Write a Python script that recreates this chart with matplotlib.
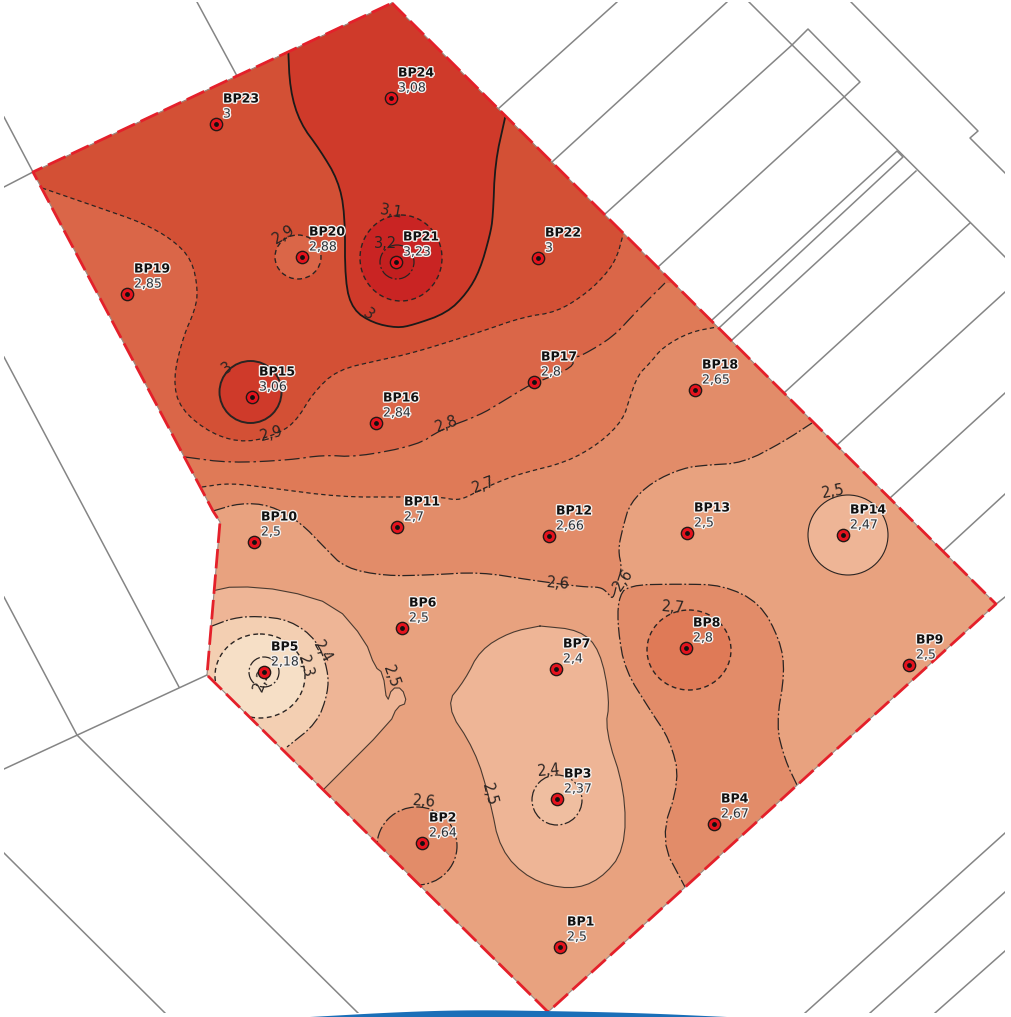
import numpy as np
import matplotlib
matplotlib.use('Agg')
import matplotlib.pyplot as plt
import matplotlib.patheffects as pe
from matplotlib.patches import Ellipse, Polygon, Rectangle

### BOREHOLES
names = ['BP1', 'BP2', 'BP3', 'BP4', 'BP5', 'BP6', 'BP7', 'BP8', 'BP9', 'BP10', 'BP11', 'BP12',
         'BP13', 'BP14', 'BP15', 'BP16', 'BP17', 'BP18', 'BP19', 'BP20', 'BP21', 'BP22', 'BP23', 'BP24']
values = ['2,5', '2,64', '2,37', '2,67', '2,18', '2,5', '2,4', '2,8', '2,5', '2,5', '2,7', '2,66',
          '2,5', '2,47', '3,06', '2,84', '2,8', '2,65', '2,85', '2,88', '3,23', '3', '3', '3,08']
bp_x = [560, 422, 557, 714, 264, 402, 556, 686, 909, 254, 397, 549,
        687, 843, 252, 376, 534, 695, 127, 302, 396, 538, 216, 391]
bp_y = [947, 843, 799, 824, 672, 628, 669, 648, 665, 542, 527, 536,
        533, 535, 397, 423, 382, 390, 294, 257, 262, 258, 124, 98]

### SITE AND PARCELS
site = [(392, 3), (996, 604), (548, 1012), (207, 675), (220, 522), (213, 511), (33, 172)]
parcels = [
    [(498, 109), (617, 2)], [(552, 162), (727, 2)],
    [(605, 214), (792, 45), (808, 29), (860, 82), (843, 98), (658, 267)],
    [(749, 2), (1005, 257)], [(851, 2), (978, 131), (970, 138), (1005, 173)],
    [(712, 320), (897, 151), (903, 157), (720, 327)], [(732, 340), (916, 171)],
    [(785, 392), (970, 223)], [(837, 445), (1005, 292)], [(890, 498), (1005, 393)],
    [(942, 552), (1005, 494)], [(995, 605), (1005, 597)],
    [(805, 1013), (1005, 833)], [(870, 1013), (1005, 892)], [(935, 1013), (1005, 951)],
    [(197, 2), (237, 76)], [(4, 117), (33, 172)], [(4, 187), (33, 172)],
    [(4, 357), (179, 687)], [(4, 597), (77, 735)], [(4, 769), (207, 675)],
    [(77, 735), (90, 748), (358, 1013)], [(4, 853), (165, 1013)],
]
banner = [(310, 1017), (400, 1012), (470, 1010), (548, 1011), (640, 1013), (727, 1017)]

### ISOLINES
line_30 = [(288, 45), (290, 90), (300, 123), (320, 150), (338, 180), (345, 213), (345, 283), (353, 310),
           (373, 323), (397, 328), (413, 325), (447, 313), (467, 293), (480, 270), (490, 235), (493, 217),
           (495, 163), (505, 118)]
line_29 = [(42, 188), (100, 208), (143, 223), (173, 240), (192, 260), (198, 290), (195, 310), (183, 337),
           (173, 379), (180, 409), (213, 435), (247, 443), (280, 433), (297, 420), (313, 393), (337, 370),
           (380, 360), (413, 353), (480, 332), (523, 317), (557, 312), (587, 293), (607, 273), (617, 257),
           (623, 235)]
line_28 = [(185, 457), (230, 463), (290, 460), (323, 455), (357, 457), (418, 445), (440, 430), (480, 415),
           (500, 403), (533, 383), (543, 380), (573, 367), (573, 358), (583, 355), (613, 337), (635, 313),
           (665, 283)]
line_27 = [(202, 487), (230, 483), (270, 488), (340, 497), (400, 497), (440, 497), (455, 500), (465, 498),
           (480, 490), (503, 480), (523, 473), (567, 462), (600, 443), (623, 420), (630, 397), (638, 375),
           (650, 363), (663, 347), (690, 332), (717, 327)]
line_26 = [(213, 511), (240, 503), (270, 505), (300, 522), (325, 548), (345, 568), (385, 576), (430, 575),
           (480, 572), (530, 580), (583, 587), (600, 587), (607, 592), (613, 600), (617, 583), (622, 568),
           (618, 550), (623, 527), (630, 503), (652, 482), (683, 468), (707, 465), (743, 463), (783, 442),
           (812, 423)]
line_26_b = [(797, 785), (785, 760), (776, 725), (785, 672), (780, 640), (760, 603), (723, 585), (680, 584),
             (627, 585), (618, 600), (618, 630), (625, 670), (650, 710), (670, 740), (680, 780), (660, 840),
             (685, 887)]
line_25_a = [(212, 591), (235, 586), (285, 590), (335, 605), (365, 640), (375, 667), (383, 673), (387, 703),
             (392, 688), (402, 688), (407, 703), (397, 707), (390, 723), (323, 790)]
line_25_b = [(540, 626), (580, 630), (600, 650), (610, 700), (605, 730), (625, 790), (625, 850), (600, 880),
             (570, 890), (530, 880), (500, 850), (490, 800), (475, 750), (445, 705), (465, 680), (480, 650),
             (510, 632), (540, 626)]
line_24 = [(212, 626), (233, 618), (257, 616), (290, 620), (317, 640), (328, 670), (328, 693), (317, 723),
           (287, 747)]

### COLOURS PER CLASS
c_22 = '#f6dfc6'
c_23 = '#f3cfb2'
c_24 = '#eeb596'
c_25 = '#e8a27f'
c_26 = '#e28c69'
c_27 = '#df7a57'
c_28 = '#da6648'
c_29 = '#d35035'
c_30 = '#cf3a2a'
c_31 = '#c92423'
c_32 = '#c21f1f'
dark = '#2a2422'

iso_labels = [('3,1', 391, 212, -10), ('3,2', 386, 243, 0), ('2,9', 284, 235, 30), ('3', 368, 314, -40),
              ('3', 227, 368, 35), ('2,9', 271, 434, 15), ('2,8', 447, 424, 20), ('2,7', 484, 485, 20),
              ('2,6', 558, 584, -5), ('2,6', 623, 580, 55), ('2,5', 833, 492, 10), ('2,7', 673, 608, -5),
              ('2,4', 322, 652, -60), ('2,3', 305, 666, -75), ('2,2', 262, 680, 70), ('2,5', 391, 677, -70),
              ('2,4', 549, 771, 5), ('2,5', 489, 795, -75), ('2,6', 424, 802, -5)]


def smooth(pts, n=2):
    # corner cutting, keeps the two ends
    p = np.array(pts, dtype=float)
    for _ in range(n):
        q = [p[0]]
        for a, b in zip(p[:-1], p[1:]):
            q.append(0.75 * a + 0.25 * b)
            q.append(0.25 * a + 0.75 * b)
        q.append(p[-1])
        p = np.array(q)
    return p


fig = plt.figure(figsize=(10.12, 10.17), dpi=100)
ax = fig.add_axes([0, 0, 1, 1])
ax.set_xlim(0, 1012)
ax.set_ylim(1017, 0)
ax.axis('off')

### PARCELS
frame = Rectangle((4, 2), 1001, 1011, transform=ax.transData)
for seg in parcels:
    xy = np.array(seg)
    l, = ax.plot(xy[:, 0], xy[:, 1], color='#858585', lw=1.1, zorder=1)
    l.set_clip_path(frame)

clip = Polygon(site, closed=True, transform=ax.transData)
ax.add_patch(Polygon(site, closed=True, fc=c_25, ec='none', zorder=2))


def band(line, outside, color, z, n=2):
    # area on one side of an isoline, the site outline cuts it
    pts = np.vstack([smooth(line, n), np.array(outside, dtype=float)])
    p = Polygon(pts, closed=True, fc=color, ec='none', zorder=z)
    ax.add_patch(p)
    p.set_clip_path(clip)


def iso(line, color=dark, lw=0.9, ls='-', z=6, n=2):
    xy = smooth(line, n)
    l, = ax.plot(xy[:, 0], xy[:, 1], color=color, lw=lw, ls=ls, zorder=z)
    l.set_clip_path(clip)


def ring(cx, cy, rx, ry, fill, lw, ls, z):
    e = Ellipse((cx, cy), 2 * rx, 2 * ry, fc=fill, ec='none', zorder=z)
    ax.add_patch(e)
    e.set_clip_path(clip)
    o = Ellipse((cx, cy), 2 * rx, 2 * ry, fc='none', ec=dark, lw=lw, ls=ls, zorder=6)
    ax.add_patch(o)
    o.set_clip_path(clip)


ls_short = (0, (3.5, 2.5))
ls_long = (0, (12, 3, 2, 3))
ls_dd = (0, (10, 2, 1.5, 2))

### BANDS, LOW TO HIGH GOING NORTH
band(line_26, [(1050, 423), (1050, -50), (-50, -50), (-50, 511)], c_26, 3)
band(line_27, [(760, 327), (760, -50), (-50, -50), (-50, 487)], c_27, 3.1)
band(line_28, [(700, 283), (700, -50), (-50, -50), (-50, 457)], c_28, 3.2)
band(line_29, [(640, 235), (640, -50), (-50, -50), (-50, 188)], c_29, 3.3)
band(line_30, [(540, 118), (540, -50), (288, -50)], c_30, 3.4)
band(line_26_b, [(760, 900)], c_26, 3)
band(line_25_a, [(250, 830), (100, 700), (100, 591)], c_24, 3, n=1)
band(line_24, [(250, 790), (100, 700), (100, 626)], c_23, 3.1)
band(line_25_b, [(540, 626)], c_24, 3)

iso(line_30, lw=1.3, color='#1c1a19')
iso(line_29, ls=ls_short)
iso(line_28, ls=ls_long)
iso(line_27, ls=ls_short)
iso(line_26, ls=ls_dd)
iso(line_26_b, ls=ls_dd)
iso(line_25_a, lw=0.8, color='#4a3a30', n=1)
iso(line_25_b, lw=0.8, color='#4a3a30')
iso(line_24, ls=ls_dd)

### ROUND ISOLINES
ring(401, 258, 41, 43, c_31, 1.0, ls_short, 4)
ring(397, 262, 17, 17, c_32, 0.9, ls_dd, 4.1)
ring(298, 257, 23, 22, c_28, 1.0, ls_short, 4)
ring(250.5, 392, 31, 31, c_30, 1.4, '-', 4)
ring(260, 676, 45, 42, c_22, 1.0, ls_short, 4)
ring(264, 672, 15, 15, c_22, 0.9, ls_dd, 4.1)
ring(557, 800, 25, 25, '#efbea0', 0.9, ls_dd, 4)
ring(848, 535, 40, 40, c_24, 0.8, '-', 4)
ring(417, 846, 40, 39, c_26, 0.9, ls_dd, 4)
ring(689, 650, 42, 40, c_27, 1.0, ls_short, 4)

### SITE OUTLINE
outline = np.array(site + [site[0]])
ax.plot(outline[:, 0], outline[:, 1], color='#9a8a85', lw=0.8, zorder=7)
ax.plot(outline[:, 0], outline[:, 1], color='#e4202a', lw=2.0, ls=(0, (7, 2.2)), zorder=7.1)

### ISOLINE LABELS
for txt, x, y, rot in iso_labels:
    ax.text(x, y, txt, fontsize=10.5, color=dark, rotation=rot, rotation_mode='anchor',
            ha='center', va='center', zorder=8)

### POINTS
ax.scatter(bp_x, bp_y, s=78, color='#e5121d', edgecolors='#231815', linewidths=1.0, zorder=9)
ax.scatter(bp_x, bp_y, s=6, color='#111111', zorder=10)

halo = [pe.withStroke(linewidth=2.0, foreground='#f4f0ee')]
for n, v, x, y in zip(names, values, bp_x, bp_y):
    ax.text(x + 7, y - 25, n, fontsize=9, fontweight='bold', color='#111111', va='center', ha='left',
            path_effects=halo, zorder=11)
    ax.text(x + 7, y - 10, v, fontsize=9, color='#2a3138', va='center', ha='left',
            path_effects=halo, zorder=11)

### BLUE BAR AT THE BOTTOM
arc = smooth(banner, 3)
ax.fill(arc[:, 0], arc[:, 1], color='#1b6fb8', lw=0, zorder=12)

fig.savefig('out.png', dpi=100)
